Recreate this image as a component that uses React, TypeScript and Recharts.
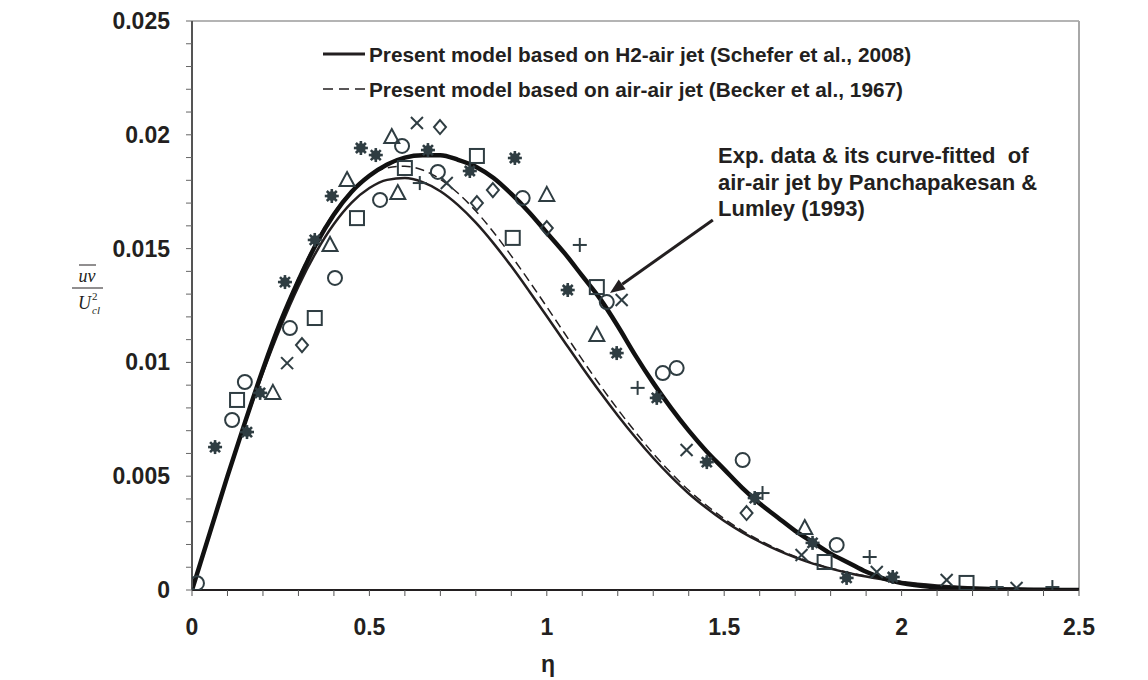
import React from "react";
import {
  ComposedChart, Line, Scatter, XAxis, YAxis, ReferenceLine,
} from "recharts";

const INK = "#231f20";
const MARK = "#2f3d42";
const FONT = "'Liberation Sans', Arial, Helvetica, sans-serif";
const SERIF = "'Liberation Serif', 'Times New Roman', serif";

// eta grid for the three curves
const ETA = [0, 0.05, 0.1, 0.15, 0.2, 0.25, 0.3, 0.35, 0.4, 0.45, 0.5, 0.55, 0.6, 0.65, 0.7, 0.75, 0.8, 0.85, 0.9, 0.95,
  1.0, 1.05, 1.1, 1.15, 1.2, 1.25, 1.3, 1.35, 1.4, 1.45, 1.5, 1.55, 1.6, 1.65, 1.7, 1.75, 1.8, 1.85, 1.9, 1.95,
  2.0, 2.1, 2.2, 2.3, 2.4, 2.5];

// curve fit of Panchapakesan & Lumley (thick line)
const FIT = [0, 0.0025, 0.005, 0.0074, 0.0097, 0.0118, 0.0136, 0.0152, 0.0165, 0.0175, 0.0182, 0.0187, 0.019, 0.0191, 0.0191, 0.0189, 0.0186, 0.0181, 0.0174, 0.0166,
  0.0157, 0.0148, 0.0138, 0.0128, 0.0116, 0.0103, 0.0091, 0.008, 0.007, 0.0061, 0.0053, 0.0045, 0.0038, 0.0032, 0.0026, 0.0021, 0.0016, 0.0012, 0.0008, 0.0005,
  0.0003, 0.00012, 0.00005, 0.00002, 0.00001, 0];

// present model, H2-air jet (thin solid)
const H2_AIR = [0, 0.00252, 0.00499, 0.00735, 0.00955, 0.01156, 0.01334, 0.01485, 0.01608, 0.01702, 0.01766, 0.01802, 0.0181, 0.01792, 0.01752, 0.01691, 0.01614, 0.01523, 0.01422, 0.01314,
  0.01203, 0.0109, 0.00978, 0.0087, 0.00767, 0.0067, 0.0058, 0.00498, 0.00424, 0.0036, 0.00303, 0.00254, 0.00212, 0.00175, 0.00143, 0.00116, 0.00094, 0.00075, 0.00059, 0.00046,
  0.00035, 0.0002, 0.00011, 0.00006, 0.00003, 0.00001];

// present model, air-air jet (dashed)
const AIR_AIR = [0, 0.00255, 0.00506, 0.00748, 0.00975, 0.01185, 0.01372, 0.0153, 0.01658, 0.01755, 0.0182, 0.01855, 0.01862, 0.01845, 0.01805, 0.01743, 0.01665, 0.01572, 0.01468, 0.01358,
  0.01244, 0.01128, 0.01012, 0.009, 0.00794, 0.00694, 0.006, 0.00515, 0.00438, 0.00372, 0.00313, 0.00262, 0.00218, 0.0018, 0.00147, 0.00119, 0.00096, 0.00077, 0.00061, 0.00047,
  0.00036, 0.0002, 0.00011, 0.00006, 0.00003, 0.00001];

// experimental points [eta, uv/Ucl^2]
const EXP_ASTERISK = [[0.065, 0.00628], [0.155, 0.00694], [0.192, 0.00866], [0.262, 0.01353], [0.346, 0.01538], [0.394, 0.01731], [0.476, 0.01942], [0.518, 0.01911],
  [0.665, 0.01933], [0.783, 0.01841], [0.91, 0.01898], [1.059, 0.01318], [1.197, 0.01041], [1.31, 0.00844], [1.451, 0.00562], [1.586, 0.00404], [1.749, 0.00207],
  [1.845, 0.00053], [1.975, 0.00057]];
const EXP_TRIANGLE = [[0.228, 0.00866], [0.389, 0.01516], [0.437, 0.01801], [0.563, 0.0199], [0.58, 0.01744], [1.0, 0.01736], [1.141, 0.0112], [1.727, 0.00272]];
const EXP_CIRCLE = [[0.014, 0.0003], [0.113, 0.00747], [0.149, 0.00914], [0.276, 0.01151], [0.403, 0.01371], [0.53, 0.01714], [0.592, 0.01951], [0.693, 0.01837], [0.932, 0.01722],
  [1.169, 0.01265], [1.327, 0.00953], [1.366, 0.00975], [1.552, 0.00571], [1.817, 0.00198]];
const EXP_SQUARE = [[0.127, 0.00835], [0.346, 0.01195], [0.465, 0.01634], [0.6, 0.01854], [0.803, 0.01907], [0.904, 0.01547], [1.141, 0.01331], [1.783, 0.00123], [2.183, 0.00031]];
const EXP_DIAMOND = [[0.31, 0.01076], [0.699, 0.02034], [0.803, 0.017], [0.848, 0.01757], [1.0, 0.0159], [1.563, 0.00338]];
const EXP_CROSS = [[0.268, 0.00997], [0.634, 0.02052], [0.718, 0.01788], [1.211, 0.01274], [1.394, 0.00615], [1.718, 0.00154], [1.93, 0.00079], [2.127, 0.00044], [2.324, 0.00009]];
const EXP_PLUS = [[0.642, 0.01788], [1.093, 0.01516], [1.256, 0.00888], [1.608, 0.00426], [1.91, 0.00145], [2.268, 0.00013], [2.425, 0.00013]];

const X_TICKS = [0, 0.1, 0.2, 0.3, 0.4, 0.5, 0.6, 0.7, 0.8, 0.9, 1, 1.1, 1.2, 1.3, 1.4, 1.5, 1.6, 1.7, 1.8, 1.9, 2, 2.1, 2.2, 2.3, 2.4, 2.5];
const X_LABELS = [0, 0.5, 1, 1.5, 2, 2.5];
const Y_TICKS = [0, 0.001, 0.002, 0.003, 0.004, 0.005, 0.006, 0.007, 0.008, 0.009, 0.01, 0.011, 0.012, 0.013, 0.014, 0.015,
  0.016, 0.017, 0.018, 0.019, 0.02, 0.021, 0.022, 0.023, 0.024, 0.025];
const Y_LABELS = [0, 0.005, 0.01, 0.015, 0.02, 0.025];

const curveData = ETA.map((eta, i) => ({ eta, fit: FIT[i], h2: H2_AIR[i], air: AIR_AIR[i] }));
const pts = (arr: number[][]) => arr.map(([eta, v]) => ({ eta, v }));

function marker(kind: string) {
  return (p: any) => {
    const { cx, cy } = p;
    if (cx == null || cy == null) return <g />;
    const s = { stroke: MARK, strokeWidth: 2, fill: "none" };
    const r = 7;
    switch (kind) {
      case "asterisk":
        return (
          <g stroke={MARK} strokeWidth={2.6}>
            <line x1={cx - r} y1={cy} x2={cx + r} y2={cy} />
            <line x1={cx} y1={cy - r} x2={cx} y2={cy + r} />
            <line x1={cx - 5} y1={cy - 5} x2={cx + 5} y2={cy + 5} />
            <line x1={cx - 5} y1={cy + 5} x2={cx + 5} y2={cy - 5} />
            <circle cx={cx} cy={cy} r={3.5} fill={MARK} />
          </g>
        );
      case "triangle":
        return <polygon points={`${cx},${cy - 8} ${cx + 7.5},${cy + 6} ${cx - 7.5},${cy + 6}`} {...s} />;
      case "circle":
        return <circle cx={cx} cy={cy} r={7} {...s} />;
      case "square":
        return <rect x={cx - 7} y={cy - 7} width={14} height={14} {...s} />;
      case "diamond":
        return <polygon points={`${cx},${cy - 7} ${cx + 6},${cy} ${cx},${cy + 7} ${cx - 6},${cy}`} {...s} />;
      case "cross":
        return (
          <g {...s}>
            <line x1={cx - 6} y1={cy - 6} x2={cx + 6} y2={cy + 6} />
            <line x1={cx - 6} y1={cy + 6} x2={cx + 6} y2={cy - 6} />
          </g>
        );
      default:
        return (
          <g {...s}>
            <line x1={cx - 7} y1={cy} x2={cx + 7} y2={cy} />
            <line x1={cx} y1={cy - 7} x2={cx} y2={cy + 7} />
          </g>
        );
    }
  };
}

function XTick({ x, y, payload }: any) {
  if (!X_LABELS.some((l) => Math.abs(l - payload.value) < 1e-9)) return <g />;
  return (
    <text x={x} y={y + 37} textAnchor="middle" fontFamily={FONT} fontWeight="bold" fontSize={23} fill={INK}>
      {String(payload.value)}
    </text>
  );
}

function YTick({ x, y, payload }: any) {
  if (!Y_LABELS.some((l) => Math.abs(l - payload.value) < 1e-9)) return <g />;
  return (
    <text x={x} y={y + 8} textAnchor="end" fontFamily={FONT} fontWeight="bold" fontSize={23} fill={INK}>
      {String(payload.value)}
    </text>
  );
}

function Arrow(p: any) {
  const { x1, y1, x2, y2 } = p;
  if (x1 == null) return <g />;
  const a = Math.atan2(y2 - y1, x2 - x1);
  const L = 15, W = 6;
  const bx = x2 - L * Math.cos(a), by = y2 - L * Math.sin(a);
  const px = -Math.sin(a) * W, py = Math.cos(a) * W;
  return (
    <g>
      <line x1={x1} y1={y1} x2={bx} y2={by} stroke={INK} strokeWidth={3} />
      <polygon points={`${x2},${y2} ${bx + px},${by + py} ${bx - px},${by - py}`} fill={INK} />
    </g>
  );
}

export default function App() {
  return (
    <div style={{ position: "absolute", left: 0, top: 0, width: 1148, height: 680, background: "#fff" }}>
      <ComposedChart width={1148} height={680} margin={{ top: 21, right: 69, left: 92, bottom: 30 }}>
        <XAxis dataKey="eta" type="number" domain={[0, 2.5]} ticks={X_TICKS} interval={0} tick={<XTick />}
          tickSize={6} tickMargin={2} height={60} axisLine={{ stroke: INK, strokeWidth: 2 }} tickLine={{ stroke: "#555" }}
          allowDataOverflow />
        <YAxis dataKey="v" type="number" domain={[0, 0.025]} ticks={Y_TICKS} interval={0} tick={<YTick />}
          tickSize={6} tickMargin={16} width={100} axisLine={{ stroke: "#555", strokeWidth: 2 }} tickLine={{ stroke: "#666" }}
          allowDataOverflow />
        <ReferenceLine y={0.025} stroke="#b4b4b4" strokeWidth={2} />
        <ReferenceLine x={2.5} stroke="#a8a8a8" strokeWidth={2} />

        <Scatter data={pts(EXP_ASTERISK)} shape={marker("asterisk")} isAnimationActive={false} />
        <Scatter data={pts(EXP_TRIANGLE)} shape={marker("triangle")} isAnimationActive={false} />
        <Scatter data={pts(EXP_CIRCLE)} shape={marker("circle")} isAnimationActive={false} />
        <Scatter data={pts(EXP_SQUARE)} shape={marker("square")} isAnimationActive={false} />
        <Scatter data={pts(EXP_DIAMOND)} shape={marker("diamond")} isAnimationActive={false} />
        <Scatter data={pts(EXP_CROSS)} shape={marker("cross")} isAnimationActive={false} />
        <Scatter data={pts(EXP_PLUS)} shape={marker("plus")} isAnimationActive={false} />

        <Line data={curveData} dataKey="air" type="monotone" stroke={INK} strokeWidth={1.5} strokeDasharray="9 5" dot={false} isAnimationActive={false} />
        <Line data={curveData} dataKey="h2" type="monotone" stroke={INK} strokeWidth={2.5} dot={false} isAnimationActive={false} />
        <Line data={curveData} dataKey="fit" type="monotone" stroke="#111" strokeWidth={4.5} dot={false} isAnimationActive={false} />

        <ReferenceLine segment={[{ x: 1.468, y: 0.01626 }, { x: 1.178, y: 0.01305 }]} shape={<Arrow />} />
      </ComposedChart>

      <svg width={1148} height={680} style={{ position: "absolute", left: 0, top: 0, pointerEvents: "none" }}>
        <g fontFamily={FONT} fontWeight="bold" fill={INK}>
          <line x1={323} y1={54} x2={365} y2={54} stroke={INK} strokeWidth={3} />
          <text x={369} y={61.5} fontSize={20.8}>Present model based on H2-air jet (Schefer et al., 2008)</text>
          <line x1={323} y1={89} x2={365} y2={89} stroke={INK} strokeWidth={1.5} strokeDasharray="10 6" />
          <text x={369} y={96.5} fontSize={20.8}>Present model based on air-air jet (Becker et al., 1967)</text>

          <text x={718} y={163} fontSize={22} xmlSpace="preserve">Exp. data &amp; its curve-fitted  of</text>
          <text x={718} y={190} fontSize={22}>air-air jet by Panchapakesan &amp;</text>
          <text x={718} y={216} fontSize={22}>Lumley (1993)</text>

          <text x={548} y={672} fontSize={23} textAnchor="middle">η</text>
        </g>
        <g fontFamily={SERIF} fontStyle="italic" fill={INK}>
          <line x1={79} y1={265} x2={96} y2={265} stroke={INK} strokeWidth={1} />
          <text x={87} y={282} fontSize={18} textAnchor="middle">uv</text>
          <line x1={72} y1={288} x2={103} y2={288} stroke={INK} strokeWidth={1} />
          <text x={78} y={309} fontSize={18}>U</text>
          <text x={92} y={300} fontSize={11} fontStyle="normal">2</text>
          <text x={92} y={314} fontSize={11}>cl</text>
        </g>
      </svg>
    </div>
  );
}
